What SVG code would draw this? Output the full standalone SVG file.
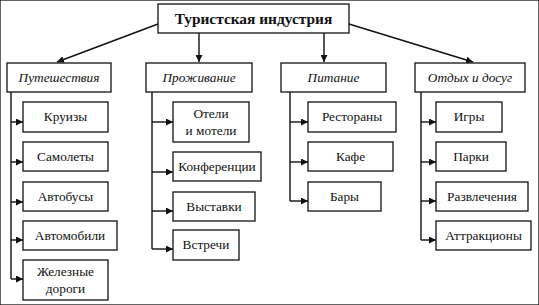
<svg xmlns="http://www.w3.org/2000/svg" width="539" height="305" viewBox="0 0 539 305">
<style>
rect{fill:#fff;stroke:#111;stroke-width:1.3}
text{font-family:'Liberation Serif','Times New Roman',serif;font-size:13.3px;fill:#111;text-anchor:middle}
.t{font-weight:bold;font-size:15.4px}
.c{font-style:italic}
#connectors path{fill:none;stroke:#111;stroke-width:1.4}
</style>
<defs>
<marker id="a" viewBox="0 0 10 10" refX="10" refY="5" markerWidth="7" markerHeight="7" markerUnits="userSpaceOnUse" orient="auto"><path d="M0,0L10,5L0,10z" fill="#111"/></marker>
</defs>
<rect x="0" y="0" width="539" height="305" fill="#fff" stroke="none"/>
<g id="connectors">
<path d="M158,24L57,62" marker-end="url(#a)"/>
<path d="M199,33L199,62" marker-end="url(#a)"/>
<path d="M324,33L324,62" marker-end="url(#a)"/>
<path d="M349,24L473,62" marker-end="url(#a)"/>
<path d="M11,92V279"/>
<path d="M11,122H23" marker-end="url(#a)"/>
<path d="M11,162H23" marker-end="url(#a)"/>
<path d="M11,202H23" marker-end="url(#a)"/>
<path d="M11,240H23" marker-end="url(#a)"/>
<path d="M11,279H23" marker-end="url(#a)"/>
<path d="M152,92V249"/>
<path d="M152,122H173" marker-end="url(#a)"/>
<path d="M152,172H173" marker-end="url(#a)"/>
<path d="M152,211H173" marker-end="url(#a)"/>
<path d="M152,249H173" marker-end="url(#a)"/>
<path d="M290,92V201"/>
<path d="M290,122H308" marker-end="url(#a)"/>
<path d="M290,162H308" marker-end="url(#a)"/>
<path d="M290,201H308" marker-end="url(#a)"/>
<path d="M421,92V240"/>
<path d="M421,122H436" marker-end="url(#a)"/>
<path d="M421,162H436" marker-end="url(#a)"/>
<path d="M421,201H436" marker-end="url(#a)"/>
<path d="M421,240H436" marker-end="url(#a)"/>
</g>
<g id="root"><rect x="158" y="4" width="191" height="29"/><text class="t" x="253.5" y="24">Туристская индустрия</text></g>
<g id="cat1"><rect x="7" y="63" width="104" height="29"/><text class="c" x="59" y="82">Путешествия</text></g>
<g id="cat2"><rect x="146" y="63" width="106" height="29"/><text class="c" x="199" y="82">Проживание</text></g>
<g id="cat3"><rect x="281" y="63" width="105" height="29"/><text class="c" x="333.5" y="82">Питание</text></g>
<g id="cat4"><rect x="415" y="63" width="110" height="29"/><text class="c" x="470" y="82">Отдых и досуг</text></g>
<g id="n1"><rect x="23" y="102" width="85" height="30"/><text x="65.5" y="121">Круизы</text></g>
<g id="n2"><rect x="23" y="142" width="85" height="29"/><text x="65.5" y="161">Самолеты</text></g>
<g id="n3"><rect x="23" y="182" width="85" height="29"/><text x="65.5" y="201">Автобусы</text></g>
<g id="n4"><rect x="23" y="221" width="94" height="29"/><text x="70" y="240">Автомобили</text></g>
<g id="n5"><rect x="23" y="260" width="85" height="40"/><text x="65.5" y="276">Железные</text><text x="65.5" y="293">дороги</text></g>
<g id="n6"><rect x="173" y="102" width="76" height="40"/><text x="211" y="118">Отели</text><text x="211" y="135">и мотели</text></g>
<g id="n7"><rect x="173" y="152" width="88" height="29"/><text x="217" y="171">Конференции</text></g>
<g id="n8"><rect x="173" y="192" width="82" height="29"/><text x="214" y="211">Выставки</text></g>
<g id="n9"><rect x="173" y="230" width="66" height="30"/><text x="206" y="249">Встречи</text></g>
<g id="n10"><rect x="308" y="102" width="88" height="30"/><text x="352" y="121">Рестораны</text></g>
<g id="n11"><rect x="308" y="142" width="85" height="29"/><text x="350.5" y="161">Кафе</text></g>
<g id="n12"><rect x="308" y="182" width="73" height="29"/><text x="344.5" y="201">Бары</text></g>
<g id="n13"><rect x="436" y="102" width="66" height="30"/><text x="469" y="121">Игры</text></g>
<g id="n14"><rect x="436" y="142" width="70" height="29"/><text x="471" y="161">Парки</text></g>
<g id="n15"><rect x="436" y="182" width="92" height="29"/><text x="482" y="201">Развлечения</text></g>
<g id="n16"><rect x="436" y="221" width="95" height="29"/><text x="483.5" y="240">Аттракционы</text></g>
</svg>
